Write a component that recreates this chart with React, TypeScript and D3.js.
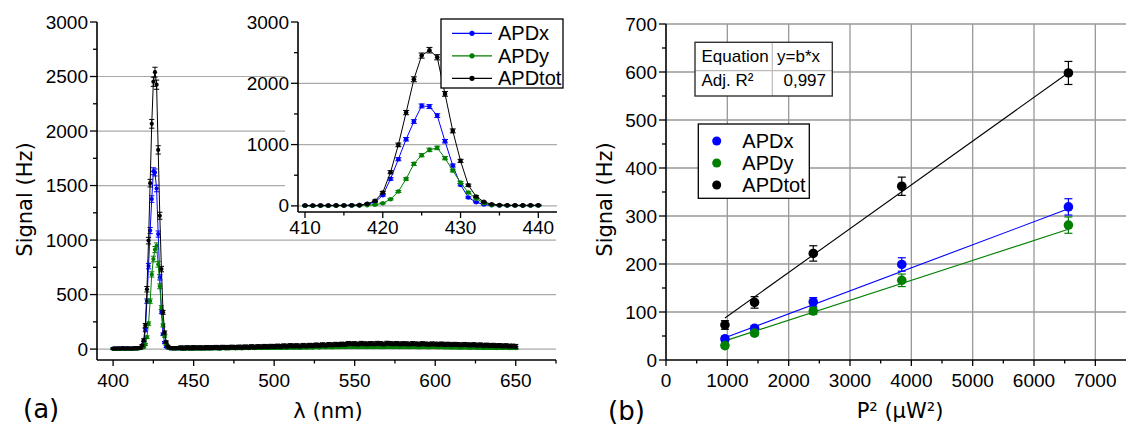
import React from "react";
import * as d3 from "d3";

// ---------- Panel (a) data ----------
const peakWl = d3.range(400, 441); // 400..440 nm, 1 nm step
const totPeak = [5,6,4,7,5,6,8,5,7,6, 6,5,7,6,8,7,10,12, 33,82,217,549,995,1522,2066,2452,2540,2425,1827,1223,734,337,152,65, 27,14,10,9,8,9,10];
const xPeak = [3,4,3,5,4,3,5,4,4,5, 4,3,5,4,5,6,8,12, 30,60,174,440,761,1087,1376,1631,1620,1473,1055,658,343,136,60,22, 10,7,6,5,6,5,6];
const yPeak = [2,3,2,3,2,3,4,3,2,3, 3,2,4,3,4,5,6,8, 12,18,43,109,234,440,685,826,913,946,778,576,380,217,119,44, 14,8,6,5,5,6,6];
const totPeakErr = [8,8,8,8,8,8,8,8,8,8, 8,8,8,8,8,8,8,8, 10,12,18,25,30,35,40,42,45,42,38,32,25,18,14,10, 8,8,8,8,8,8,8];
const xPeakErr = [6,6,6,6,6,6,6,6,6,6, 6,6,6,6,6,6,6,6, 8,10,15,20,25,28,30,32,32,30,28,24,18,12,10,8, 6,6,6,6,6,6,6];
const yPeakErr = [6,6,6,6,6,6,6,6,6,6, 6,6,6,6,6,6,6,6, 7,8,10,12,16,20,24,26,28,28,26,22,18,14,10,8, 6,6,6,6,6,6,6];

const bgWl = d3.range(442, 651, 2); // 442..650 nm, 2 nm step
const totBg = [
  12,10,13,11,14,12,13,11,15,13,
  14,16,13,17,15,16,18,15,19,17,
  20,18,22,19,23,21,25,22,26,24,
  28,25,30,27,32,29,31,28,34,30,
  35,32,38,34,40,36,42,39,44,41,
  46,43,52,48,50,45,53,49,47,51,
  48,53,50,46,54,51,48,52,47,50,
  49,46,51,48,45,50,47,44,48,46,
  44,47,43,45,41,44,42,39,43,40,
  38,41,36,39,34,37,33,35,31,33,
  29,31,27,28,25,
];
const xBg = [
  7,6,8,7,6,8,7,9,8,7,
  8,9,7,10,9,8,10,9,11,10,
  11,10,12,11,13,12,14,12,15,13,
  15,14,16,15,17,16,18,16,19,17,
  19,18,21,19,22,20,23,21,24,22,
  25,23,27,24,26,24,27,25,23,26,
  25,27,24,23,26,25,24,26,23,25,
  24,23,25,24,22,24,23,22,24,23,
  22,23,21,22,20,21,20,19,21,19,
  18,20,17,19,16,18,16,17,15,16,
  14,15,13,14,12,
];
const yBg = [
  5,4,6,5,4,6,5,6,5,6,
  6,7,5,8,6,7,8,7,8,7,
  9,8,10,9,10,9,11,10,12,11,
  12,11,13,12,14,13,14,12,15,14,
  15,14,17,15,17,16,18,16,19,17,
  20,18,21,19,20,18,21,19,18,20,
  19,21,18,17,20,19,18,20,17,19,
  18,17,19,18,16,18,17,16,18,17,
  16,17,15,16,14,15,14,13,15,13,
  12,14,11,13,10,12,10,11,9,10,
  9,10,8,9,8,
];
const totBgErr = 18;
const xBgErr = 12;
const yBgErr = 12;

const mainYTicks = [0, 500, 1000, 1500, 2000, 2500, 3000];
const mainYMinor = [250, 750, 1250, 1750, 2250, 2750];
const mainXTicks = [400, 450, 500, 550, 600, 650];
const mainXMinor = [425, 475, 525, 575, 625, 675];
const insetYTicks = [0, 1000, 2000, 3000];
const insetYMinor = [500, 1500, 2500];
const insetXTicks = [410, 420, 430, 440];
const insetXMinor = [415, 425, 435];

// ---------- Panel (b) data ----------
const p2 = [961, 1444, 2401, 3844, 6561];
const sigTot = [73, 120, 222, 362, 598];
const sigTotErr = [9, 12, 16, 19, 24];
const sigX = [44, 66, 121, 199, 319];
const sigXErr = [6, 6, 9, 14, 17];
const sigY = [30, 56, 102, 166, 281];
const sigYErr = [5, 5, 7, 13, 17];
const fitSlopes = { tot: 0.0912, x: 0.048, y: 0.0415 };
const rightYTicks = [0, 100, 200, 300, 400, 500, 600, 700];
const rightYMinor = [50, 150, 250, 350, 450, 550, 650];
const rightXTicks = [0, 1000, 2000, 3000, 4000, 5000, 6000, 7000];
const rightXMinor = [500, 1500, 2500, 3500, 4500, 5500, 6500];

const BLUE = "#0000ff";
const GREEN = "#008000";
const BLACK = "#000000";
const GRID = "#aaaaaa";
const TICKF = "'Liberation Sans', Arial, sans-serif";
const TITLEF = "'DejaVu Sans', sans-serif";

type Sc = d3.ScaleLinear<number, number>;

function Series({ xs, ys, es, sx, sy, color, r, cap, lw }: {
  xs: number[]; ys: number[]; es: number[]; sx: Sc; sy: Sc; color: string; r: number; cap: number; lw: number;
}) {
  const line = d3.line<number>().x((_, i) => sx(xs[i])).y((d) => sy(d));
  return (
    <g>
      <path d={line(ys) || ""} fill="none" stroke={color} strokeWidth={lw} />
      {ys.map((v, i) => {
        const x = sx(xs[i]);
        const y0 = sy(v - es[i]);
        const y1 = sy(v + es[i]);
        return (
          <g key={i}>
            <line x1={x} x2={x} y1={y0} y2={y1} stroke={color} strokeWidth={1} />
            <line x1={x - cap} x2={x + cap} y1={y0} y2={y0} stroke={color} strokeWidth={1} />
            <line x1={x - cap} x2={x + cap} y1={y1} y2={y1} stroke={color} strokeWidth={1} />
            <circle cx={x} cy={sy(v)} r={r} fill={color} />
          </g>
        );
      })}
    </g>
  );
}

function Axes({ sx, sy, xT, xM, yT, yM, fs, xLabelDy, showX = true }: {
  sx: Sc; sy: Sc; xT: number[]; xM: number[]; yT: number[]; yM: number[]; fs: number; xLabelDy: number; showX?: boolean;
}) {
  const [x0, x1] = sx.range();
  const [yb, yt] = sy.range();
  return (
    <g fontFamily={TICKF} fontSize={fs} fill="#000">
      <line x1={x0} x2={x0} y1={yt} y2={yb} stroke="#000" strokeWidth={1.6} />
      <line x1={x0} x2={x1} y1={yb} y2={yb} stroke="#000" strokeWidth={1.6} />
      {yT.map((t) => (
        <g key={"yt" + t}>
          <line x1={x0 - 7} x2={x0} y1={sy(t)} y2={sy(t)} stroke="#000" strokeWidth={1.3} />
          <text x={x0 - 9} y={sy(t)} textAnchor="end" dominantBaseline="central">{t}</text>
        </g>
      ))}
      {yM.map((t) => (
        <line key={"ym" + t} x1={x0 - 4} x2={x0} y1={sy(t)} y2={sy(t)} stroke="#000" strokeWidth={1.3} />
      ))}
      {showX && xT.map((t) => (
        <g key={"xt" + t}>
          <line x1={sx(t)} x2={sx(t)} y1={yb} y2={yb + 6} stroke="#000" strokeWidth={1.3} />
          <text x={sx(t)} y={yb + xLabelDy} textAnchor="middle">{t}</text>
        </g>
      ))}
      {showX && xM.map((t) => (
        <line key={"xm" + t} x1={sx(t)} x2={sx(t)} y1={yb} y2={yb + 3.5} stroke="#000" strokeWidth={1.3} />
      ))}
    </g>
  );
}

export default function App() {
  const mx = d3.scaleLinear().domain([390, 675]).range([97, 556]);
  const my = d3.scaleLinear().domain([-100, 3000]).range([360, 22]);
  const ix = d3.scaleLinear().domain([409.1, 442.4]).range([298, 557]);
  const iy = d3.scaleLinear().domain([-100, 3000]).range([212, 22]);
  const rx = d3.scaleLinear().domain([0, 7500]).range([666, 1126]);
  const ry = d3.scaleLinear().domain([0, 700]).range([360, 24]);

  const wl = [...peakWl, ...bgWl];
  const tot = [...totPeak, ...totBg];
  const xs = [...xPeak, ...xBg];
  const ys = [...yPeak, ...yBg];
  const totE = [...totPeakErr, ...bgWl.map(() => totBgErr)];
  const xE = [...xPeakErr, ...bgWl.map(() => xBgErr)];
  const yE = [...yPeakErr, ...bgWl.map(() => yBgErr)];

  const s0 = 10;
  const s1 = 41;
  const inWl = peakWl.slice(s0, s1);

  const fits = [
    { b: fitSlopes.tot, c: BLACK },
    { b: fitSlopes.x, c: BLUE },
    { b: fitSlopes.y, c: GREEN },
  ];
  const pMin = p2[0];
  const pMax = p2[p2.length - 1];

  const legendA = [
    { n: "APDx", c: BLUE },
    { n: "APDy", c: GREEN },
    { n: "APDtot", c: BLACK },
  ];

  return (
    <svg width={1126} height={428} style={{ position: "absolute", left: 0, top: 0, background: "#fff" }}>
      <rect x={0} y={0} width={1126} height={428} fill="#fff" />
      {/* ===== Panel (a) ===== */}
      {mainYTicks.filter((t) => t < 3000).map((t) => (
        <line key={"mg" + t} x1={97} x2={556} y1={my(t)} y2={my(t)} stroke={GRID} strokeWidth={1.2} />
      ))}
      <Series xs={wl} ys={xs} es={xE} sx={mx} sy={my} color={BLUE} r={2.1} cap={2.6} lw={1} />
      <Series xs={wl} ys={ys} es={yE} sx={mx} sy={my} color={GREEN} r={2.1} cap={2.6} lw={1} />
      <Series xs={wl} ys={tot} es={totE} sx={mx} sy={my} color={BLACK} r={2.1} cap={2.6} lw={1} />
      <Axes sx={mx} sy={my} xT={mainXTicks} xM={mainXMinor} yT={mainYTicks} yM={mainYMinor} fs={19} xLabelDy={27} />

      {/* Inset */}
      <rect x={285} y={10} width={285} height={226} fill="#fff" />
      {insetYTicks.filter((t) => t < 3000).map((t) => (
        <line key={"ig" + t} x1={298} x2={557} y1={iy(t)} y2={iy(t)} stroke={GRID} strokeWidth={1.2} />
      ))}
      <Series xs={inWl} ys={xPeak.slice(s0, s1)} es={xPeakErr.slice(s0, s1)} sx={ix} sy={iy} color={BLUE} r={2.3} cap={3} lw={1} />
      <Series xs={inWl} ys={yPeak.slice(s0, s1)} es={yPeakErr.slice(s0, s1)} sx={ix} sy={iy} color={GREEN} r={2.3} cap={3} lw={1} />
      <Series xs={inWl} ys={totPeak.slice(s0, s1)} es={totPeakErr.slice(s0, s1)} sx={ix} sy={iy} color={BLACK} r={2.3} cap={3} lw={1} />
      <Axes sx={ix} sy={iy} xT={insetXTicks} xM={insetXMinor} yT={insetYTicks} yM={insetYMinor} fs={19} xLabelDy={22} />
      <g>
        <rect x={441} y={19} width={122} height={69} fill="#fff" stroke="#000" strokeWidth={1.3} />
        {legendA.map((l, i) => {
          const y = 33.3 + i * 22.5;
          return (
            <g key={l.n}>
              <line x1={452} x2={492} y1={y} y2={y} stroke={l.c} strokeWidth={1.2} />
              <circle cx={472} cy={y} r={2.6} fill={l.c} />
              <text x={498} y={y + 7} fontFamily={TICKF} fontSize={20}>{l.n}</text>
            </g>
          );
        })}
      </g>

      <text transform="translate(32,199.5) rotate(-90)" textAnchor="middle" fontFamily={TITLEF} fontSize={21}>Signal (Hz)</text>
      <text x={328} y={418} textAnchor="middle" fontFamily={TITLEF} fontSize={21}>λ (nm)</text>
      <text x={23} y={418} fontFamily={TITLEF} fontSize={26}>(a)</text>

      {/* ===== Panel (b) ===== */}
      {rightYTicks.filter((t) => t > 0).map((t) => (
        <line key={"rg" + t} x1={666} x2={1126} y1={ry(t)} y2={ry(t)} stroke="#999" strokeWidth={1.3} />
      ))}
      {rightXTicks.filter((t) => t > 0).map((t) => (
        <line key={"rgv" + t} x1={rx(t)} x2={rx(t)} y1={24} y2={360} stroke="#999" strokeWidth={1.3} />
      ))}
      {fits.map((f, i) => (
        <line key={"fit" + i} x1={rx(pMin)} x2={rx(pMax)} y1={ry(f.b * pMin)} y2={ry(f.b * pMax)} stroke={f.c} strokeWidth={1.1} />
      ))}
      {[
        { v: sigTot, e: sigTotErr, c: BLACK },
        { v: sigX, e: sigXErr, c: BLUE },
        { v: sigY, e: sigYErr, c: GREEN },
      ].map((s, k) => (
        <g key={"rs" + k}>
          {s.v.map((v, i) => {
            const x = rx(p2[i]);
            const y0 = ry(v - s.e[i]);
            const y1 = ry(v + s.e[i]);
            return (
              <g key={i}>
                <line x1={x} x2={x} y1={y0} y2={y1} stroke={s.c} strokeWidth={1.2} />
                <line x1={x - 4} x2={x + 4} y1={y0} y2={y0} stroke={s.c} strokeWidth={1.2} />
                <line x1={x - 4} x2={x + 4} y1={y1} y2={y1} stroke={s.c} strokeWidth={1.2} />
                <circle cx={x} cy={ry(v)} r={4.8} fill={s.c} />
              </g>
            );
          })}
        </g>
      ))}
      <Axes sx={rx} sy={ry} xT={rightXTicks} xM={rightXMinor} yT={rightYTicks} yM={rightYMinor} fs={19} xLabelDy={27} />

      {/* Table */}
      <g fontFamily={TICKF} fontSize={17}>
        <rect x={695} y={42.3} width={137.3} height={53.7} fill="#fff" />
        <line x1={772.3} x2={772.3} y1={42.3} y2={96} stroke="#bbb" strokeWidth={1.2} />
        <line x1={695} x2={832.3} y1={70.7} y2={70.7} stroke="#bbb" strokeWidth={1.2} />
        <rect x={695} y={42.3} width={137.3} height={53.7} fill="none" stroke="#333" strokeWidth={1.4} />
        <text x={701.5} y={62}>Equation</text>
        <text x={777} y={62}>y=b*x</text>
        <text x={701.5} y={86}>Adj. R²</text>
        <text x={826} y={86} textAnchor="end">0,997</text>
      </g>

      {/* Legend (b) */}
      <g>
        <rect x={698.3} y={124} width={111} height={74.3} fill="#fff" stroke="#000" strokeWidth={1.3} />
        {legendA.map((l, i) => {
          const y = 141 + i * 22;
          return (
            <g key={"lb" + l.n}>
              <circle cx={716.7} cy={y} r={4.5} fill={l.c} />
              <text x={742.3} y={y + 6.5} fontFamily={TICKF} fontSize={20}>{l.n}</text>
            </g>
          );
        })}
      </g>

      <text transform="translate(612,199.5) rotate(-90)" textAnchor="middle" fontFamily={TITLEF} fontSize={21}>Signal (Hz)</text>
      <text x={900} y={418} textAnchor="middle" fontFamily={TITLEF} fontSize={21}>P² (µW²)</text>
      <text x={608} y={420} fontFamily={TITLEF} fontSize={26}>(b)</text>
    </svg>
  );
}
